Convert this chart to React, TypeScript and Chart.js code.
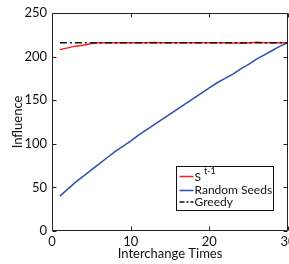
import React, { useEffect, useRef } from "react";
import { Chart, registerables } from "chart.js";

Chart.register(...registerables);

const xValues = [1,2,3,4,5,6,7,8,9,10,11,12,13,14,15,16,17,18,19,20,21,22,23,24,25,26,27,28,29,30];
const st1Values = [208,210,212,213,215,216,216,216,216,216,216,216,216.3,216,216,216,216,216,216,216,216,216,215.5,215.5,215.5,216.5,216,216,216,216];
const randomValues = [40,48,56,63,70,77,84,91,97,103,110,116,122,128,134,140,146,152,158,164,170,175,180,186,191,197,202,207,212,216];
const greedyValues = xValues.map(() => 216);
const xTicks = [0, 10, 20, 30];
const yTicks = [0, 50, 100, 150, 200, 250];
const legendLabels = ["S", "Random Seeds", "Greedy"];
const legendSup = "t-1";

const RED = "#ff1a1a";
const BLUE = "#2f4fae";
const FONT = "Lato";

const framePlugin = {
  id: "frame",
  afterDraw(chart: any) {
    const { ctx, chartArea: a, scales } = chart;
    ctx.save();
    ctx.strokeStyle = "#222";
    ctx.lineWidth = 1;
    const L = Math.round(a.left) + 0.5, R = Math.round(a.right) - 0.5;
    const T = Math.round(a.top) + 0.5, B = Math.round(a.bottom) - 0.5;
    ctx.beginPath();
    ctx.rect(L, T, R - L, B - T);
    ctx.stroke();
    const tl = 4;
    ctx.beginPath();
    xTicks.forEach((v) => {
      const x = Math.round(scales.x.getPixelForValue(v)) + 0.5;
      ctx.moveTo(x, B); ctx.lineTo(x, B - tl);
      ctx.moveTo(x, T); ctx.lineTo(x, T + tl);
    });
    yTicks.forEach((v) => {
      const y = Math.round(scales.y.getPixelForValue(v)) + 0.5;
      ctx.moveTo(L, y); ctx.lineTo(L + tl, y);
      ctx.moveTo(R, y); ctx.lineTo(R - tl, y);
    });
    ctx.stroke();

    // legend
    const bx = a.left + 124.5, by = a.top + 153.5, bw = 97, bh = 44;
    ctx.fillStyle = "#fff";
    ctx.fillRect(bx, by, bw, bh);
    ctx.strokeStyle = "#111";
    ctx.strokeRect(bx, by, bw, bh);
    const rows = [by + 10, by + 24, by + 35.5];
    const colors = [RED, BLUE, "#111"];
    ctx.lineWidth = 1.5;
    rows.forEach((ry, i) => {
      ctx.strokeStyle = colors[i];
      ctx.setLineDash(i === 2 ? [5, 2, 2, 2] : []);
      ctx.beginPath();
      ctx.moveTo(bx + 3, ry);
      ctx.lineTo(bx + 17, ry);
      ctx.stroke();
    });
    ctx.setLineDash([]);
    ctx.fillStyle = "#111";
    ctx.textBaseline = "middle";
    ctx.textAlign = "left";
    ctx.font = `12px ${FONT}`;
    ctx.fillText(legendLabels[0], bx + 18, rows[0] + 1);
    const sw = ctx.measureText(legendLabels[0]).width;
    ctx.font = `9px ${FONT}`;
    ctx.fillText(legendSup, bx + 18 + sw + 3, rows[0] - 5);
    ctx.font = `12px ${FONT}`;
    ctx.fillText(legendLabels[1], bx + 18, rows[1]);
    ctx.fillText(legendLabels[2], bx + 18, rows[2]);
    ctx.restore();
  },
};

export default function App() {
  const ref = useRef<HTMLCanvasElement>(null);
  useEffect(() => {
    if (!ref.current) return;
    const chart = new Chart(ref.current, {
      type: "line",
      data: {
        labels: xValues,
        datasets: [
          { label: "S t-1", order: 2, data: xValues.map((x, i) => ({ x, y: st1Values[i] })), borderColor: RED, borderWidth: 1.5, pointRadius: 0, tension: 0 },
          { label: "Random Seeds", order: 1, data: xValues.map((x, i) => ({ x, y: randomValues[i] })), borderColor: BLUE, borderWidth: 1.5, pointRadius: 0, tension: 0 },
          { label: "Greedy", order: 0, data: xValues.map((x, i) => ({ x, y: greedyValues[i] })), borderColor: "#111", borderWidth: 1.5, borderDash: [7, 3, 2, 3], pointRadius: 0, tension: 0 },
        ],
      },
      options: {
        responsive: false,
        animation: false,
        devicePixelRatio: 1,
        layout: { padding: { left: 0, top: 13, right: 32, bottom: 0 } },
        plugins: { legend: { display: false }, tooltip: { enabled: false } },
        scales: {
          x: {
            type: "linear",
            min: 0,
            max: 30,
            grid: { display: false, drawTicks: false },
            border: { display: false },
            afterBuildTicks: (s: any) => { s.ticks = xTicks.map((v) => ({ value: v })); },
            afterFit: (s: any) => { s.height = 33; },
            ticks: { padding: 3, color: "#111", font: { family: FONT, size: 13 }, maxRotation: 0 },
            title: { display: true, text: "Interchange Times", color: "#111", font: { family: FONT, size: 13 }, padding: { top: 0, bottom: 2 } },
          },
          y: {
            min: 0,
            max: 250,
            grid: { display: false, drawTicks: false },
            border: { display: false },
            afterBuildTicks: (s: any) => { s.ticks = yTicks.map((v) => ({ value: v })); },
            afterFit: (s: any) => { s.width = 52; },
            ticks: { padding: 5, color: "#111", font: { family: FONT, size: 13 } },
            title: { display: true, text: "Influence", color: "#111", font: { family: FONT, size: 13 }, padding: { top: 10, bottom: 0 } },
          },
        },
      },
      plugins: [framePlugin],
    } as any);
    return () => chart.destroy();
  }, []);
  return (
    <div style={{ position: "absolute", left: 0, top: 0, width: 289, height: 264, overflow: "hidden", background: "#fff" }}>
      <canvas ref={ref} width={320} height={264} style={{ width: 320, height: 264, display: "block" }} />
    </div>
  );
}
